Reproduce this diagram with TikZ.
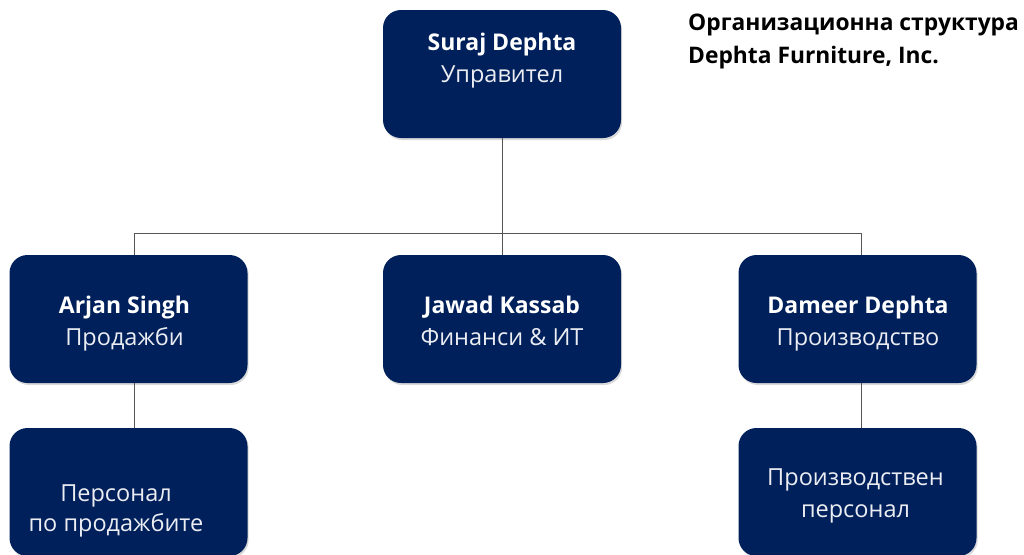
\documentclass[tikz,border=0pt]{standalone}
\usepackage{fontspec}
\setmainfont{Open Sans}
\usetikzlibrary{shadows}
\definecolor{navy}{RGB}{0,32,91}
\definecolor{linegray}{RGB}{85,85,85}
\begin{document}
\begin{tikzpicture}[x=1pt,y=-1pt,
  box/.style={fill=navy, rounded corners=18pt, minimum width=238pt, minimum height=128pt,
    inner sep=0pt, drop shadow={shadow xshift=1.2pt, shadow yshift=-2pt, opacity=0.3}},
  who/.style={text=white, font=\bfseries\fontsize{23}{27}\selectfont, inner sep=0pt, anchor=base},
  role/.style={text=white!92!navy, font=\fontsize{23.5}{27}\selectfont, inner sep=0pt, anchor=base},
  title/.style={text=black, font=\bfseries\fontsize{22.8}{26}\selectfont, inner sep=0pt, anchor=base west},
  link/.style={draw=linegray, line width=0.9pt}]
\useasboundingbox (0,0) rectangle (1024,554);

% boxes
\node[box] (ceo)   at (502,74)  {};
\node[box] (sales) at (128.5,319) {};
\node[box] (fin)   at (502,319) {};
\node[box] (prod)  at (857.5,319) {};
\node[box] (salesstaff) at (128.5,492) {};
\node[box] (prodstaff)  at (857.5,492) {};

% connectors
\coordinate (busL) at (134,233);
\coordinate (busR) at (861,233);
\draw[link] (ceo.south) -- (fin.north);
\draw[link] (busL) -- (busR);
\draw[link] (busL) -- (busL |- sales.north);
\draw[link] (busR) -- (busR |- prod.north);
\draw[link] (busL |- sales.south) -- (busL |- salesstaff.north);
\draw[link] (busR |- prod.south) -- (busR |- prodstaff.north);

% labels
\node[who]  (ceoname)  at (502,50)  {Suraj Dephta};
\node[role] (ceorole)  at (502,82)  {Управител};
\node[who]  (salesname) at (124.5,313) {Arjan Singh};
\node[role] (salesrole) at (124.5,345) {Продажби};
\node[who]  (finname)  at (502,313) {Jawad Kassab};
\node[role] (finrole)  at (502,345) {Финанси \& ИТ};
\node[who]  (prodname) at (858,313) {Dameer Dephta};
\node[role] (prodrole) at (858,345) {Производство};
\node[role] (ss1) at (116,501) {Персонал};
\node[role] (ss2) at (116,531) {по продажбите};
\node[role] (ps1) at (855.5,485) {Производствен};
\node[role] (ps2) at (855.5,517) {персонал};

% heading
\node[title] (head1) at (688,30) {Организационна структура};
\node[title] (head2) at (688,63) {Dephta Furniture, Inc.};
\end{tikzpicture}
\end{document}
